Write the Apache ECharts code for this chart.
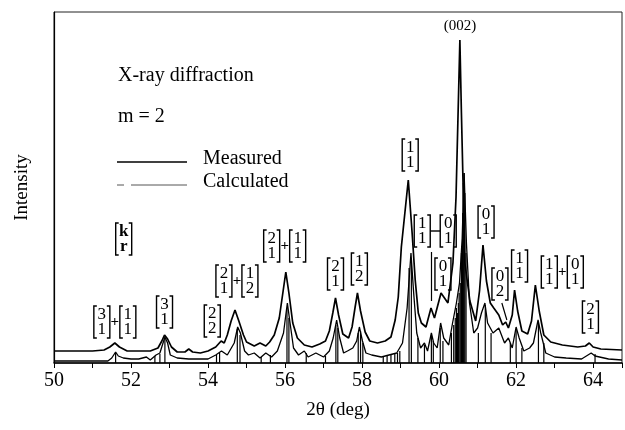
<!DOCTYPE html>
<html>
<head>
<meta charset="utf-8">
<script src="https://cdn.jsdelivr.net/npm/echarts@6/dist/echarts.min.js"></script>
<style>
  html, body { margin: 0; padding: 0; background: #fff; }
  #chart { width: 625px; height: 430px; }
</style>
</head>
<body>
<div id="chart"></div>
<script>
// intensity is in arbitrary units (0 = axis)
var measured = [
  [50.0, 12], [50.5, 12], [51.0, 12], [51.3, 13], [51.45, 16], [51.58, 20], [51.7, 16], [51.9, 12],
  [52.2, 12], [52.5, 12], [52.7, 15], [52.8, 22], [52.87, 28], [52.95, 24], [53.05, 16], [53.2, 11],
  [53.4, 11], [53.5, 14], [53.6, 11], [53.8, 10], [54.0, 12], [54.2, 16], [54.34, 22], [54.42, 20],
  [54.5, 28], [54.6, 42], [54.7, 53], [54.8, 42], [54.92, 28], [55.0, 21], [55.2, 17], [55.35, 20],
  [55.5, 17], [55.6, 21], [55.72, 28], [55.85, 45], [55.95, 72], [56.02, 91], [56.1, 70], [56.2, 40],
  [56.32, 25], [56.5, 18], [56.7, 16], [56.9, 19], [57.05, 22], [57.15, 32], [57.24, 50], [57.31, 65],
  [57.39, 48], [57.5, 29], [57.65, 25], [57.74, 36], [57.82, 56], [57.88, 70], [57.96, 52], [58.08, 31],
  [58.2, 22], [58.4, 20], [58.6, 22], [58.75, 26], [58.86, 43], [58.94, 66], [59.02, 116], [59.2, 183],
  [59.3, 130], [59.38, 83], [59.46, 50], [59.54, 40], [59.66, 36], [59.79, 55], [59.88, 45], [60.05, 70],
  [60.23, 60], [60.36, 100], [60.44, 166], [60.54, 323], [60.58, 250], [60.67, 100], [60.8, 62], [60.95, 42],
  [61.05, 72], [61.14, 118], [61.23, 82], [61.33, 60], [61.42, 55], [61.55, 48], [61.65, 38], [61.73, 41],
  [61.8, 35], [61.9, 48], [61.96, 73], [62.04, 52], [62.15, 32], [62.3, 29], [62.4, 42], [62.5, 78],
  [62.6, 52], [62.72, 28], [62.9, 21], [63.2, 18], [63.6, 16], [63.8, 17], [63.9, 20], [64.0, 16],
  [64.2, 14], [64.75, 13]
];

var calculated = [
  [50.0, 2], [51.0, 2], [51.4, 2], [51.5, 5], [51.6, 11], [51.67, 7], [51.8, 5], [52.0, 4],
  [52.2, 4], [52.4, 6], [52.5, 3], [52.65, 8], [52.75, 10], [52.88, 26], [52.95, 20], [53.02, 8],
  [53.2, 5], [53.5, 4], [53.8, 4], [54.0, 4], [54.2, 8], [54.35, 12], [54.5, 8], [54.68, 20],
  [54.77, 36], [54.84, 30], [54.95, 12], [55.05, 8], [55.2, 10], [55.35, 5], [55.5, 10], [55.65, 6],
  [55.8, 12], [55.96, 30], [56.06, 60], [56.13, 40], [56.22, 15], [56.35, 8], [56.5, 12], [56.6, 6],
  [56.8, 10], [57.0, 6], [57.15, 12], [57.25, 25], [57.34, 43], [57.42, 25], [57.52, 10], [57.62, 12],
  [57.76, 15], [57.86, 22], [57.93, 36], [58.01, 22], [58.1, 10], [58.25, 8], [58.5, 6], [58.7, 8],
  [58.9, 10], [59.05, 20], [59.17, 55], [59.27, 110], [59.34, 70], [59.42, 30], [59.52, 15], [59.62, 20],
  [59.7, 12], [59.8, 30], [59.86, 20], [59.95, 15], [60.04, 40], [60.12, 25], [60.25, 18], [60.35, 40],
  [60.45, 60], [60.53, 80], [60.6, 125], [60.65, 190], [60.71, 120], [60.79, 60], [60.9, 30], [61.0, 35],
  [61.1, 50], [61.19, 60], [61.26, 40], [61.4, 30], [61.55, 35], [61.7, 20], [61.8, 25], [61.9, 15],
  [62.0, 36], [62.08, 25], [62.2, 12], [62.35, 15], [62.45, 20], [62.57, 43], [62.64, 30], [62.77, 10],
  [63.0, 6], [63.3, 5], [63.7, 4], [63.95, 10], [64.05, 7], [64.4, 4], [64.75, 3]
];

var sticks = [
  [51.6, 10], [52.62, 7], [52.75, 9], [52.88, 24], [54.22, 8], [54.3, 10], [54.76, 34], [54.83, 28],
  [55.38, 6], [55.62, 8], [56.05, 55], [56.1, 45], [56.55, 10], [57.05, 7], [57.32, 38], [57.37, 35],
  [57.9, 30], [57.96, 32], [58.02, 20], [58.55, 6], [58.65, 7], [58.75, 8], [58.85, 9], [58.92, 10],
  [58.98, 12], [59.22, 95], [59.28, 105], [59.45, 25], [59.62, 18], [59.8, 28], [59.85, 22], [60.03, 35],
  [60.1, 22], [60.32, 30], [60.38, 38], [60.42, 45], [60.45, 55], [60.48, 50], [60.5, 60], [60.52, 70],
  [60.55, 80], [60.58, 110], [60.61, 150], [60.63, 180], [60.65, 190], [60.67, 170], [60.7, 110],
  [61.02, 30], [61.2, 58], [61.35, 30], [61.85, 20], [62.0, 34], [62.15, 15], [62.58, 40], [62.72, 20],
  [64.05, 9]
];

// peak labels: "top,bottom" vectors joined by + or -
var annoText = ['3,1+1,1', 'k,r', '3,1', '2,2', '2,1+1,2', '2,1+1,1', '2,1', '1,2', '1,1',
                '1,1-0,1', '0,1', '0,1', '0,2', '1,1', '1,1+0,1', '2,1', '(002)'];
var annoX = [51.58, 51.81, 52.87, 54.11, 54.75, 55.99, 57.31, 57.93, 59.25,
             59.9, 60.1, 61.22, 61.58, 62.09, 63.2, 63.93, 60.54];
var annoY = [25, 108, 35, 26, 66, 101, 73, 78, 192, 116, 73, 125, 63, 81, 75, 30, 329];

var leaders = [
  [[59.8, 111], [59.8, 62]],
  [[61.63, 60], [61.76, 43]]
];

var serif = '"Liberation Serif", "DejaVu Serif", serif';
var chart = echarts.init(document.getElementById('chart'));

function renderLabel(params, api) {
  var txt = annoText[params.dataIndex];
  var p = api.coord([api.value(0), api.value(1)]);
  var children = [];
  var ink = { stroke: '#000', lineWidth: 1.4, fill: null };
  if (txt.charAt(0) === '(') {
    children.push({ type: 'text', style: { text: txt, x: p[0], y: p[1], align: 'center',
      verticalAlign: 'bottom', font: '15px ' + serif, fill: '#000' } });
    return { type: 'group', children: children };
  }
  var parts = txt.match(/\w,\w|[+\-]/g);
  var W = 18, J = 8, H = 32;
  var total = 0;
  parts.forEach(function (s) { total += s.length > 1 ? W : J; });
  var x = p[0] - total / 2, yb = p[1], yt = p[1] - H;
  var font = (txt === 'k,r' ? 'bold ' : '') + '17px ' + serif;
  parts.forEach(function (s) {
    if (s.length > 1) {
      var v = s.split(',');
      children.push({ type: 'polyline', shape: { points: [[x + 4, yt], [x + 1, yt], [x + 1, yb], [x + 4, yb]] }, style: ink });
      children.push({ type: 'polyline', shape: { points: [[x + W - 4, yt], [x + W - 1, yt], [x + W - 1, yb], [x + W - 4, yb]] }, style: ink });
      children.push({ type: 'text', style: { text: v[0], x: x + W / 2, y: yt + 9, align: 'center', verticalAlign: 'middle',
        font: font, fill: '#000' } });
      children.push({ type: 'text', style: { text: v[1], x: x + W / 2, y: yt + 24, align: 'center', verticalAlign: 'middle',
        font: font, fill: '#000' } });
      x += W;
    } else if (s === '+') {
      children.push({ type: 'text', style: { text: '+', x: x + J / 2, y: yt + H / 2, align: 'center', verticalAlign: 'middle',
        font: 'bold 15px ' + serif, fill: '#000' } });
      x += J;
    } else {
      children.push({ type: 'line', shape: { x1: x - 1, y1: yt + H / 2, x2: x + J + 1, y2: yt + H / 2 }, style: ink });
      x += J;
    }
  });
  return { type: 'group', children: children };
}

chart.setOption({
  animation: false,
  backgroundColor: '#fff',
  grid: { left: 54, right: 2, top: 12, bottom: 67, show: true, borderColor: '#222', borderWidth: 1 },
  xAxis: {
    type: 'value', min: 50, max: 64.75, interval: 1,
    name: '2θ (deg)', nameLocation: 'middle', nameGap: 38,
    nameTextStyle: { fontFamily: serif, fontSize: 19, color: '#000' },
    axisLine: { lineStyle: { color: '#000', width: 1.5 } },
    axisTick: { length: 5, lineStyle: { color: '#000' } },
    axisLabel: { fontFamily: serif, fontSize: 20, color: '#000', margin: 8,
      formatter: function (v) { return v % 2 === 0 ? String(v) : ''; } },
    splitLine: { show: false }
  },
  yAxis: {
    type: 'value', min: 0, max: 351,
    name: 'Intensity', nameLocation: 'middle', nameGap: 22, nameRotate: 90,
    nameTextStyle: { fontFamily: serif, fontSize: 19, color: '#000' },
    axisLine: { show: true, lineStyle: { color: '#000', width: 1.2 } },
    axisTick: { show: false }, axisLabel: { show: false }, splitLine: { show: false }
  },
  graphic: [
    { type: 'text', left: 118, top: 66, style: { text: 'X-ray diffraction', font: '20px ' + serif, fill: '#000' } },
    { type: 'text', left: 118, top: 107, style: { text: 'm = 2', font: '20px ' + serif, fill: '#000' } },
    { type: 'line', shape: { x1: 117, y1: 162, x2: 187, y2: 162 }, style: { stroke: '#000', lineWidth: 1.4 } },
    { type: 'text', left: 203, top: 149, style: { text: 'Measured', font: '20px ' + serif, fill: '#000' } },
    { type: 'line', shape: { x1: 117, y1: 185, x2: 124, y2: 185 }, style: { stroke: '#555', lineWidth: 1 } },
    { type: 'line', shape: { x1: 131, y1: 185, x2: 187, y2: 185 }, style: { stroke: '#555', lineWidth: 1 } },
    { type: 'text', left: 203, top: 172, style: { text: 'Calculated', font: '20px ' + serif, fill: '#000' } }
  ],
  series: [
    { name: 'Measured', type: 'line', data: measured, showSymbol: false, z: 3,
      lineStyle: { color: '#000', width: 1.7 } },
    { name: 'Calculated', type: 'line', data: calculated, showSymbol: false, z: 3,
      lineStyle: { color: '#000', width: 1.3 } },
    { name: 'Sticks', type: 'custom', data: sticks, z: 4,
      renderItem: function (params, api) {
        var a = api.coord([api.value(0), 0]), b = api.coord([api.value(0), api.value(1)]);
        return { type: 'line', shape: { x1: a[0], y1: a[1], x2: b[0], y2: b[1] },
          style: { stroke: '#000', lineWidth: 1.2 } };
      } },
    { name: 'Leaders', type: 'lines', coordinateSystem: 'cartesian2d', z: 5,
      data: leaders.map(function (c) { return { coords: c }; }),
      lineStyle: { color: '#000', width: 1.2, opacity: 1 } },
    { name: 'Labels', type: 'custom', z: 6, clip: false,
      data: annoX.map(function (x, i) { return [x, annoY[i]]; }),
      renderItem: renderLabel }
  ]
});
</script>
</body>
</html>
